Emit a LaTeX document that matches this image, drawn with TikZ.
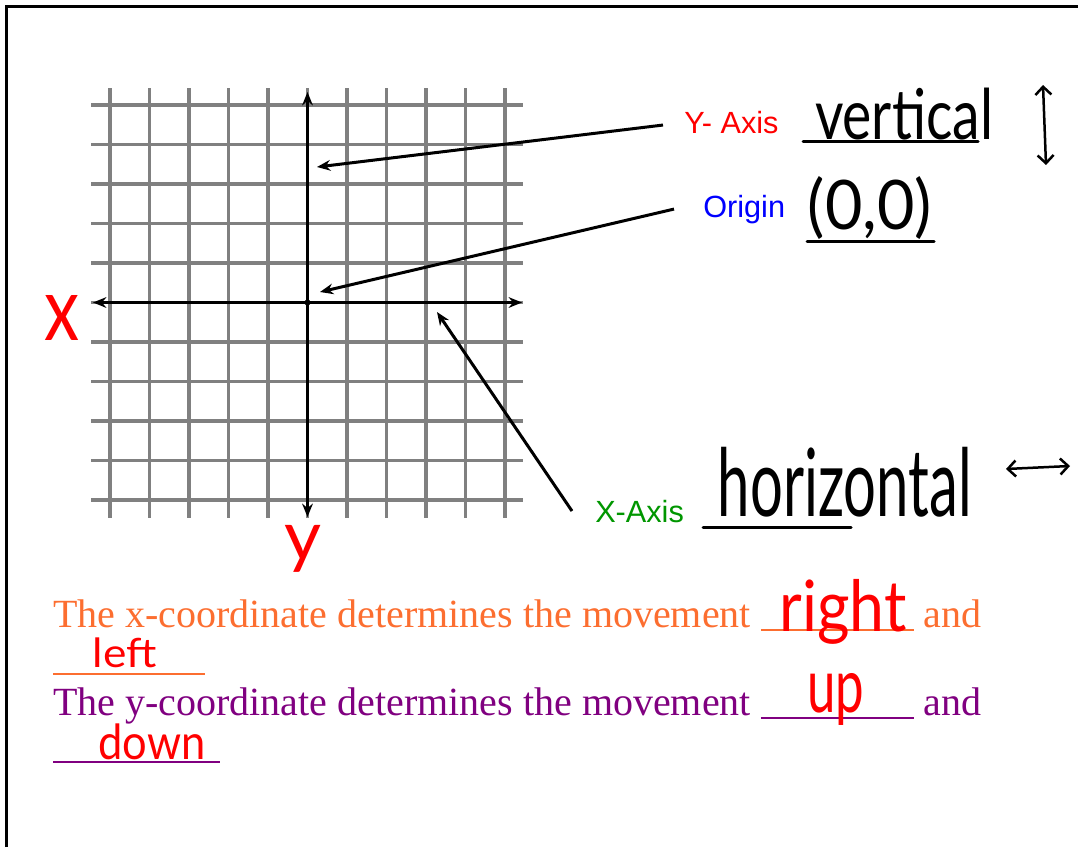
\documentclass[tikz,border=0pt]{standalone}
\usepackage{fontspec}
\usepackage{graphicx}
\usepackage{tikz}
\usetikzlibrary{arrows.meta}
\newfontfamily\labelfont{Liberation Sans}
\newfontfamily\bodyfont{Liberation Serif}
\newfontfamily\inkfont{Lato}
\newlength{\pxu}\setlength{\pxu}{0.75pt}
\newcommand{\ink}[3]{\resizebox*{#1\pxu}{#2\pxu}{\inkfont #3}}
\definecolor{xorange}{RGB}{252,110,48}
\definecolor{ypurple}{RGB}{128,0,128}
\definecolor{xgreen}{RGB}{0,150,0}
\definecolor{inkred}{RGB}{255,0,0}
\tikzset{
  gridline/.style={black!50,line width=3.2\pxu},
  axisline/.style={{Stealth[length=10pt,width=8pt]}-{Stealth[length=10pt,width=8pt]},line width=3\pxu},
  leader/.style={-{Stealth[length=10pt,width=8pt]},line width=3\pxu},
  blank/.style={line width=3\pxu,line cap=round},
  barbs/.style={{Straight Barb[length=6pt]}-{Straight Barb[length=6pt]},line width=2.5\pxu},
  lab/.style={inner sep=0pt,anchor=base west,font=\labelfont\fontsize{23}{27}\selectfont},
  inknode/.style={inner sep=0pt,text=inkred},
  sentence/.style={inner sep=0pt,anchor=base west,font=\bodyfont\fontsize{30}{36}\selectfont},
}

\begin{document}
\begin{tikzpicture}[x=0.75pt,y=-0.75pt]
  \useasboundingbox (0,0) rectangle (1078,847);
  % frame, only top and left edges show
  \draw[line width=3\pxu] (6.5,847) -- (6.5,6.5) -- (1078,6.5);
  % graph paper
  \foreach \k in {0,...,10} {
    \draw[gridline] ({110+39.5*\k},88) -- ({110+39.5*\k},518);
    \draw[gridline] (91,{105+39.5*\k}) -- (523,{105+39.5*\k});
  }
  % the two axes
  \coordinate (O) at (307.5,302.5);
  \draw[axisline] (93,302.5) -- (522,302.5);
  \draw[axisline] (307.5,92) -- (307.5,517);
  \fill (O) circle (3\pxu);
  \node[inknode] (xink) at (62,318) {\ink{35}{45}{x}};
  \node[inknode] (yink) at (303,549) {\ink{37}{47}{y}};

  % printed labels and their leaders
  \node[lab,text=inkred] (ylab) at (684,133) {Y- Axis};
  \node[lab,text=blue] (olab) at (703,217) {Origin};
  \node[lab,text=xgreen] (xlab) at (595,522) {X-Axis};
  \coordinate (ytip) at (317,167);
  \coordinate (otip) at (320,292);
  \coordinate (xtip) at (437,312);
  \draw[leader] ([xshift=-21\pxu,yshift=-3\pxu]ylab.west) -- (ytip);
  \draw[leader] ([xshift=-29\pxu]olab.west) -- (otip);
  \draw[leader] ([xshift=-23\pxu]xlab.west) -- (xtip);

  % answers written in by hand
  \node[inknode,text=black] (vertink) at (904,114) {\ink{178}{52}{vertical}};
  \draw[blank] (803,141) -- (978,141);
  \draw[barbs] (1043,85) -- (1046,165);
  \node[inknode,text=black] (originink) at (870,208.5) {\ink{124}{63}{(0,0)}};
  \draw[blank] (807,241) -- (934,241);
  \node[inknode,text=black] (horizink) at (845,482) {\ink{254}{70}{horizontal}};
  \draw[blank] (703,527) -- (851,527);
  \draw[barbs] (1006,469) -- (1070,466);

  % fill-in sentences
  \node[sentence,text=xorange] (xsent) at (53,627) {The x-coordinate determines the movement \rule[-4\pxu]{153\pxu}{2.5\pxu} and};
  \node[sentence,text=xorange] (xblank) at (53,671) {\rule[-4\pxu]{152\pxu}{2.5\pxu}};
  \node[sentence,text=ypurple] (ysent) at (53,715) {The y-coordinate determines the movement \rule[-4\pxu]{153\pxu}{2.5\pxu} and};
  \node[sentence,text=ypurple] (yblank) at (53,759) {\rule[-4\pxu]{167\pxu}{2.5\pxu}};
  \node[inknode] (rightink) at (843,612) {\ink{127}{65}{right}};
  \node[inknode] (leftink) at (125,653) {\ink{64}{30}{left}};
  \node[inknode] (upink) at (836,699) {\ink{57}{52}{up}};
  \node[inknode] (downink) at (152,742) {\ink{107}{36}{down}};
\end{tikzpicture}
\end{document}
